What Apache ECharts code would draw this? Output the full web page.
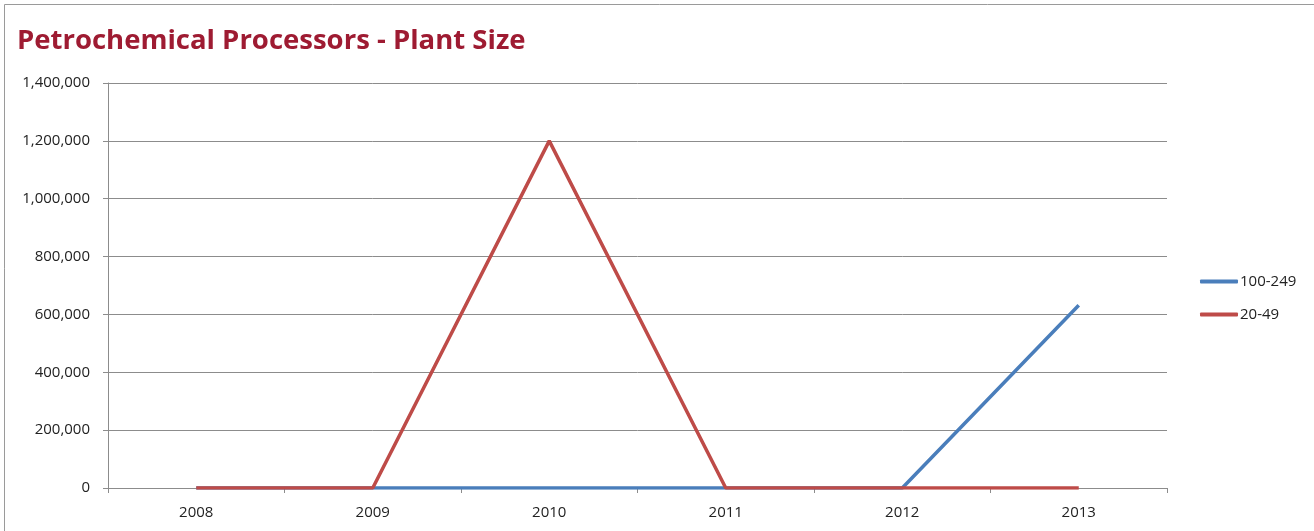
<!DOCTYPE html>
<html>
<head>
<meta charset="utf-8">
<title>Petrochemical Processors - Plant Size</title>
<script src="https://cdn.jsdelivr.net/npm/echarts@6/dist/echarts.min.js"></script>
<style>
  html, body { margin: 0; padding: 0; background: #fff; }
  #chart { width: 1314px; height: 531px; }
</style>
</head>
<body>
<div id="chart"></div>
<script>
// Years on the category axis
const years = ['2008', '2009', '2010', '2011', '2012', '2013'];

// Plant size groups (employees) and their values per year
const size100to249 = [0, 0, 0, 0, 0, 632000];
const size20to49 = [0, 0, 1200000, 0, 0, 0];

// Value axis range
const yMin = 0;
const yMax = 1400000;
const yStep = 200000;

const font = '"Open Sans", "Noto Sans", sans-serif';

const chart = echarts.init(document.getElementById('chart'), null, { renderer: 'canvas' });

chart.setOption({
  animation: false,
  backgroundColor: '#ffffff',
  graphic: [{
    type: 'rect',
    shape: { x: 4.5, y: 4.5, width: 1400, height: 600 },
    style: { fill: 'none', stroke: '#9a9a9a', lineWidth: 1 },
    silent: true
  }],
  title: {
    text: 'Petrochemical Processors - Plant Size',
    left: 12,
    top: 22,
    textStyle: {
      fontFamily: font,
      fontWeight: 'bold',
      fontSize: 27.5,
      color: '#9e1b32'
    }
  },
  legend: {
    orient: 'vertical',
    left: 1195,
    top: 269,
    icon: 'roundRect',
    itemWidth: 38,
    itemHeight: 4,
    itemGap: 18,
    textStyle: { fontFamily: font, fontSize: 15, color: '#222', padding: [0, 0, 0, -3] },
    data: ['100-249', '20-49']
  },
  grid: {
    left: 108,
    right: 147,
    top: 83,
    bottom: 43,
    containLabel: false
  },
  xAxis: {
    type: 'category',
    data: years,
    boundaryGap: true,
    axisLine: { lineStyle: { color: '#8c8c8c', width: 1 } },
    axisTick: { show: true, alignWithLabel: false, length: 5, lineStyle: { color: '#8c8c8c' } },
    axisLabel: { fontFamily: font, fontSize: 15, color: '#222', margin: 17 },
    splitLine: { show: false }
  },
  yAxis: {
    type: 'value',
    min: yMin,
    max: yMax,
    interval: yStep,
    axisLine: { show: true, lineStyle: { color: '#8c8c8c', width: 1 } },
    axisTick: { show: true, length: 5, lineStyle: { color: '#8c8c8c' } },
    axisLabel: {
      fontFamily: font,
      fontSize: 15,
      color: '#222',
      margin: 18,
      formatter: v => v.toLocaleString('en-US')
    },
    splitLine: { show: true, lineStyle: { color: '#8c8c8c', width: 1 } }
  },
  series: [
    {
      name: '100-249',
      type: 'line',
      data: size100to249,
      symbol: 'none',
      lineStyle: { color: '#4a7ebb', width: 3.5 },
      itemStyle: { color: '#4a7ebb' },
      z: 2
    },
    {
      name: '20-49',
      type: 'line',
      data: size20to49,
      symbol: 'none',
      lineStyle: { color: '#be4b48', width: 3.5 },
      itemStyle: { color: '#be4b48' },
      z: 3
    }
  ]
});
</script>
</body>
</html>
